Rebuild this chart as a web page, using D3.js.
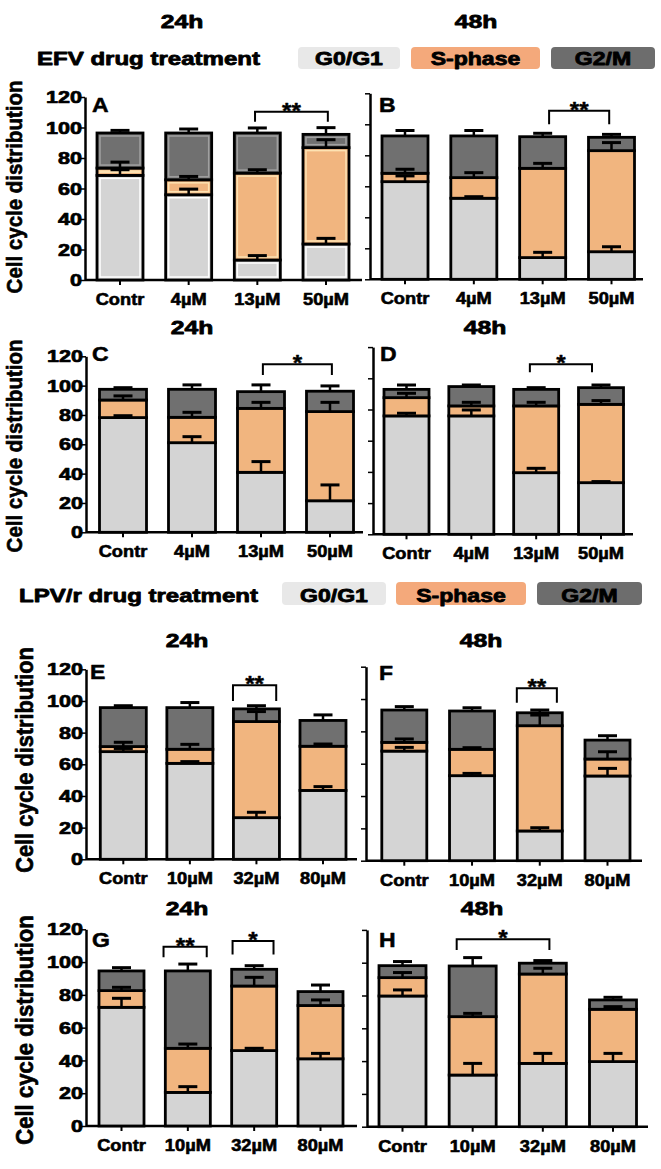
<!DOCTYPE html>
<html><head><meta charset="utf-8">
<script src="https://cdn.jsdelivr.net/npm/d3@7"></script>
<style>html,body{margin:0;padding:0;background:#fff}svg{display:block}</style>
</head><body>
<svg id="chart" width="661" height="1169"></svg>
<script>
// ---------- DATA ----------
const categoriesEFV = ["Contr", "4µM", "13µM", "50µM"];
const categoriesLPV = ["Contr", "10µM", "32µM", "80µM"];
const phases = ["G0/G1", "S-phase", "G2/M"];
const yTicks = [0, 20, 40, 60, 80, 100, 120];
const yLabel = "Cell cycle distribution";
const headerEFV = "EFV drug treatment";
const headerLPV = "LPV/r drug treatment";

// segment sizes (%) per phase, and SD (error) per phase
const A_G0G1 = [68.6, 55.9, 13.1, 23.6], A_S = [4.8, 9.8, 57.0, 63.2], A_G2M = [23.0, 30.7, 26.3, 8.7];
const A_errG0G1 = [3.7, 3.7, 2.9, 3.7], A_errS = [3.9, 2.2, 2.2, 5.2], A_errG2M = [1.7, 2.6, 3.3, 4.4];
const B_G0G1 = [63.0, 52.3, 14.0, 17.8], B_S = [5.4, 13.3, 57.6, 65.2], B_G2M = [24.1, 26.9, 20.4, 8.6];
const B_errG0G1 = [3.7, 1.0, 3.4, 3.2], B_errS = [2.6, 3.2, 3.2, 5.2], B_errG2M = [3.5, 3.5, 2.2, 1.9];
const C_G0G1 = [78.2, 61.1, 40.9, 21.5], C_S = [12.0, 17.3, 43.6, 60.8], C_G2M = [7.3, 19.1, 11.4, 13.9];
const C_errG0G1 = [1.3, 4.1, 7.3, 10.8], C_errS = [2.8, 3.4, 4.1, 6.3], C_errG2M = [1.1, 3.0, 4.6, 3.6];
const D_G0G1 = [75.9, 75.9, 39.5, 33.1], D_S = [11.7, 6.4, 42.8, 50.2], D_G2M = [5.3, 12.4, 10.6, 10.7];
const D_errG0G1 = [1.7, 3.8, 2.8, 0.7], D_errS = [2.8, 2.3, 2.3, 2.4], D_errG2M = [2.8, 1.0, 1.1, 1.7];
const E_G0G1 = [68.0, 60.6, 26.3, 43.5], E_S = [3.2, 8.9, 60.7, 27.9], E_G2M = [24.6, 26.3, 8.0, 16.3];
const E_errG0G1 = [2.0, 1.1, 3.4, 2.4], E_errS = [2.7, 3.1, 6.3, 1.4], E_errG2M = [1.2, 3.2, 2.0, 3.5];
const F_G0G1 = [67.8, 52.6, 18.4, 52.4], F_S = [5.4, 16.3, 65.1, 10.5], F_G2M = [20.0, 23.7, 8.0, 11.7];
const F_errG0G1 = [2.3, 1.4, 2.0, 4.7], F_errS = [2.1, 1.0, 6.6, 4.5], F_errG2M = [2.1, 2.0, 1.7, 2.7];
const G_G0G1 = [72.4, 20.5, 46.0, 41.0], G_S = [10.2, 26.9, 39.4, 32.5], G_G2M = [12.0, 47.2, 10.2, 8.5];
const G_errG0G1 = [5.5, 3.5, 1.4, 3.3], G_errS = [2.0, 2.6, 5.3, 3.4], G_errG2M = [2.0, 4.2, 2.2, 4.0];
const H_G0G1 = [79.7, 31.5, 38.6, 39.7], H_S = [11.2, 35.6, 54.5, 31.9], H_G2M = [7.3, 30.9, 6.6, 5.7];
const H_errG0G1 = [3.7, 7.1, 6.1, 5.0], H_errS = [3.1, 2.0, 3.5, 1.6], H_errG2M = [2.5, 5.1, 1.6, 1.6];

// significance brackets: [fromIndex, toIndex, topValue, legValue, label]
const A_sig = [[2, 3, 110.4, 103.8, "**"]];
const B_sig = [[2, 3, 108.8, 100.0, "**"]];
const C_sig = [[2, 3, 114.5, 107.3, "*"]];
const D_sig = [[2, 3, 109.0, 103.8, "*"]];
const E_sig = [[2, 2, 110.0, 100.0, "**"]];
const F_sig = [[2, 2, 106.6, 97.7, "**"]];
const G_sig = [[1, 1, 109.4, 103.0, "**"], [2, 2, 112.9, 104.7, "*"]];
const H_sig = [[1, 2, 114.3, 107.8, "*"]];

const panelTitles = ["24h", "48h", "24h", "48h", "24h", "48h", "24h", "48h"];

// ---------- STYLE / LAYOUT ----------
const colors = {"G0/G1": "#d4d4d4", "S-phase": "#f1b57f", "G2/M": "#707070"};
const legendColors = {"G0/G1": "#e8e8e8", "S-phase": "#f4a97b", "G2/M": "#6d6d6d"};
const glowColors = {"G0/G1": "#ffffff", "S-phase": "#fde2b2", "G2/M": "#a0a0a0"};
const FONT = "'Liberation Sans', Arial, sans-serif";

const panels = [
  {id:"A", cats:categoriesEFV, g:[A_G0G1,A_S,A_G2M], e:[A_errG0G1,A_errS,A_errG2M], sig:A_sig,
   x0:85, x1:362, y0:280, yTop:97, c0:120, c1:326, bw:46, labels:true, glow:true, letter:[92,112], title:[182,28],
   br:[[-0.05,0.04]], ylab:[22,187,20.5]},
  {id:"B", cats:categoriesEFV, g:[B_G0G1,B_S,B_G2M], e:[B_errG0G1,B_errS,B_errG2M], sig:B_sig,
   x0:370, x1:643, y0:279.3, yTop:93.3, c0:405, c1:611.5, bw:46, labels:false, glow:false, letter:[379,112], title:[476,28],
   br:[[0.14,-0.05]]},
  {id:"C", cats:categoriesEFV, g:[C_G0G1,C_S,C_G2M], e:[C_errG0G1,C_errS,C_errG2M], sig:C_sig,
   x0:86, x1:363, y0:532.3, yTop:356.3, c0:123, c1:330, bw:47, labels:true, glow:false, letter:[92,361], title:[192,334],
   br:[[0.04,0.04]], ylab:[22,446,20.5]},
  {id:"D", cats:categoriesEFV, g:[D_G0G1,D_S,D_G2M], e:[D_errG0G1,D_errS,D_errG2M], sig:D_sig,
   x0:373, x1:633, y0:534.3, yTop:347.1, c0:406.5, c1:601, bw:45, labels:false, glow:false, letter:[380,361], title:[485,334],
   br:[[-0.14,-0.2]]},
  {id:"E", cats:categoriesLPV, g:[E_G0G1,E_S,E_G2M], e:[E_errG0G1,E_errS,E_errG2M], sig:E_sig,
   x0:86, x1:357, y0:859.3, yTop:669.3, c0:123.3, c1:323, bw:46, labels:true, glow:false, letter:[90,679], title:[187,647],
   br:[[-0.51,0.43]], ylab:[33,760,21.7]},
  {id:"F", cats:categoriesLPV, g:[F_G0G1,F_S,F_G2M], e:[F_errG0G1,F_errS,F_errG2M], sig:F_sig,
   x0:366, x1:642, y0:860.7, yTop:666.7, c0:404.3, c1:607.5, bw:45, labels:false, glow:false, letter:[379,680], title:[481,647],
   br:[[-0.51,0.38]]},
  {id:"G", cats:categoriesLPV, g:[G_G0G1,G_S,G_G2M], e:[G_errG0G1,G_errS,G_errG2M], sig:G_sig,
   x0:86, x1:357, y0:1126, yTop:929.3, c0:121.5, c1:320.5, bw:45, labels:true, glow:false, letter:[92,947], title:[187,915],
   br:[[-0.54,0.42],[-0.48,0.43]], ylab:[33,1030,22.1]},
  {id:"H", cats:categoriesLPV, g:[H_G0G1,H_S,H_G2M], e:[H_errG0G1,H_errS,H_errG2M], sig:H_sig,
   x0:367, x1:648, y0:1126.7, yTop:929.9, c0:402.5, c1:613, bw:47, labels:false, glow:false, letter:[379,947], title:[482,915],
   br:[[-0.34,0.14]]}
];

const svg = d3.select("#chart");

function txt(sel, x, y, s, o = {}) {
  const sx = o.sx || 1;
  let tr = `translate(${x},${y}) scale(${sx},1)`;
  if (o.rotate) tr += ` rotate(${o.rotate})`;
  const t = sel.append("text").attr("transform", tr)
    .attr("text-anchor", o.anchor || "middle")
    .attr("dy", o.dy || null)
    .attr("font-family", FONT).attr("font-weight", o.weight || 700)
    .attr("font-size", o.size || 16).attr("fill", o.fill || "#000")
    .text(s);
  if (o.heavy) t.attr("stroke", o.fill || "#000").attr("stroke-width", o.heavy).attr("stroke-linejoin", "round");
  return t;
}

// ---------- HEADERS / LEGENDS ----------
function legendRow(y, textX, label, boxes, boxY, boxH) {
  txt(svg, textX, y, label, {anchor: "start", size: 18.5, sx: 1.3, heavy: 0.8});
  phases.forEach((p, i) => {
    const [bx0, bx1] = boxes[i];
    svg.append("rect").attr("x", bx0).attr("y", boxY).attr("width", bx1 - bx0).attr("height", boxH)
      .attr("rx", 4).attr("fill", legendColors[p]);
    txt(svg, (bx0 + bx1) / 2, y, p, {size: 18, sx: 1.28, heavy: 0.8});
  });
}
legendRow(65, 37, headerEFV, [[298, 400], [411, 540], [551, 655]], 47, 22);
legendRow(602, 19, headerLPV, [[282, 386], [396, 526], [537, 642]], 582, 23);

// ---------- PANELS ----------
panels.forEach((P, pi) => {
  const g = svg.append("g");
  const y = d3.scaleLinear().domain([0, 120]).range([P.y0, P.yTop]);
  const x = d3.scalePoint().domain(P.cats).range([P.c0, P.c1]);

  // title
  txt(g, P.title[0], P.title[1], panelTitles[pi], {size: 19, sx: 1.3, heavy: 0.8});

  // y axis
  const yAx = g.append("g").attr("transform", `translate(${P.x0},0)`)
    .call(d3.axisLeft(y).tickValues(yTicks).tickSize(5).tickSizeOuter(0).tickFormat(P.labels ? d3.format("d") : ""));
  yAx.select(".domain").attr("stroke", "#000").attr("stroke-width", 2.5);
  yAx.selectAll(".tick line").attr("stroke", "#000").attr("stroke-width", 1.5);
  yAx.selectAll(".tick text").remove();
  if (P.labels) {
    yTicks.forEach(t => txt(g, P.x0 - 3, y(t), String(t), {anchor: "end", size: 17, sx: 1.27, dy: "0.36em", heavy: 0.7}));
  }

  // x axis
  g.append("line").attr("x1", P.x0).attr("x2", P.x1).attr("y1", P.y0).attr("y2", P.y0)
    .attr("stroke", "#000").attr("stroke-width", 2.5);
  P.cats.forEach(c => {
    g.append("line").attr("x1", x(c)).attr("x2", x(c)).attr("y1", P.y0).attr("y2", P.y0 + 5)
      .attr("stroke", "#000").attr("stroke-width", 2);
    txt(g, x(c), P.y0 + 25, c, {size: 16, sx: 1.14, heavy: 0.6});
  });

  // bars
  const stacked = P.cats.map((c, i) => {
    let cum = 0;
    return phases.map((p, k) => {
      const v = P.g[k][i];
      const seg = {cat: c, phase: p, lo: cum, hi: cum + v, err: P.e[k][i]};
      cum += v;
      return seg;
    });
  });
  stacked.forEach(segs => {
    segs.forEach(s => {
      const rx = x(s.cat) - P.bw / 2;
      g.append("rect").attr("x", rx).attr("y", y(s.hi)).attr("width", P.bw)
        .attr("height", y(s.lo) - y(s.hi)).attr("fill", colors[s.phase])
        .attr("stroke", "#000").attr("stroke-width", 2.8);
      if (P.glow && (y(s.lo) - y(s.hi)) > 7) {
        g.append("rect").attr("x", rx + 3).attr("y", y(s.hi) + 3).attr("width", P.bw - 6)
          .attr("height", y(s.lo) - y(s.hi) - 6).attr("fill", "none")
          .attr("stroke", glowColors[s.phase]).attr("stroke-width", 1.5);
      }
    });
  });
  // error bars
  const capW = 19;
  stacked.forEach(segs => {
    segs.forEach(s => {
      const cx = x(s.cat);
      g.append("line").attr("x1", cx).attr("x2", cx).attr("y1", y(s.hi)).attr("y2", y(s.hi + s.err))
        .attr("stroke", "#000").attr("stroke-width", 2.5);
      g.append("line").attr("x1", cx - capW / 2).attr("x2", cx + capW / 2)
        .attr("y1", y(s.hi + s.err)).attr("y2", y(s.hi + s.err))
        .attr("stroke", "#000").attr("stroke-width", 3);
    });
  });

  // significance brackets
  P.sig.forEach((b, j) => {
    const [fi, ti, top, leg, lab] = b;
    const off = P.br[j];
    const xa = x(P.cats[fi]) + off[0] * P.bw, xb = x(P.cats[ti]) + off[1] * P.bw;
    g.append("path").attr("d", `M${xa},${y(leg)}V${y(top)}H${xb}V${y(leg)}`)
      .attr("fill", "none").attr("stroke", "#000").attr("stroke-width", 2);
    txt(g, (xa + xb) / 2, y(top) + 6, lab, {size: 22, sx: 1.1, heavy: 0.4});
  });

  // panel letter
  txt(g, P.letter[0], P.letter[1], P.id, {anchor: "start", size: 20, sx: 1.15, heavy: 0.5});

  // y label
  if (P.ylab) {
    txt(g, P.ylab[0], P.ylab[1], yLabel, {rotate: -90, size: P.ylab[2], sx: 1.1, heavy: 0.6});
  }
});
</script>
</body></html>
